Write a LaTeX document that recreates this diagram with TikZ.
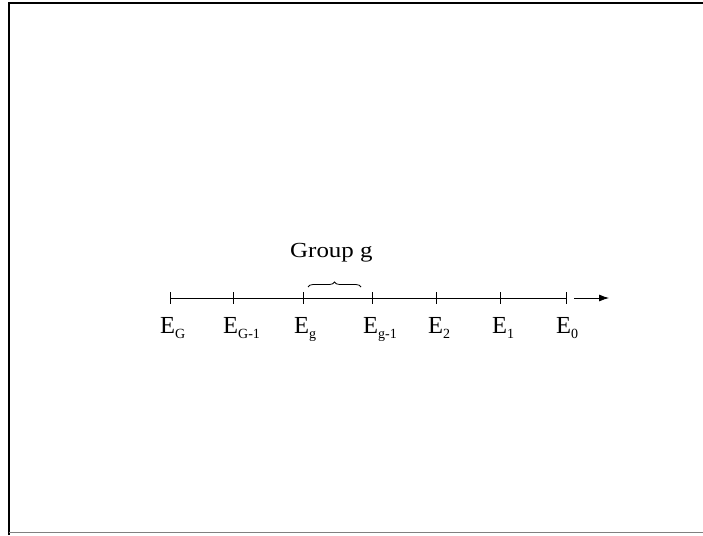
\documentclass[tikz,border=0pt]{standalone}
\usepackage{fontspec}
\usepackage{graphicx}
\setmainfont{Liberation Serif}
\usetikzlibrary{decorations.pathreplacing,arrows.meta}
\newcommand\subtxt[1]{\raisebox{-5pt}{\fontsize{14}{14}\selectfont #1}}
\begin{document}
\begin{tikzpicture}[x=1pt,y=-1pt,
  lbl/.style={anchor=base west, inner sep=0pt, font=\fontsize{24.5}{24.5}\selectfont},
  tick/.style={line width=0.8pt},
  axis/.style={line width=0.8pt}]
\useasboundingbox (0,0) rectangle (703,535);
% frame
\coordinate (fbl) at (9,535);
\coordinate (ftl) at (9,3);
\coordinate (ftr) at (703,3);
\coordinate (fb1) at (9,532);
\coordinate (fb2) at (703,532);
\draw[line width=2pt] (fbl) -- (ftl) -- (ftr);
\draw[gray, line width=1pt] (fb1) -- (fb2);
% axis
\foreach \n/\x in {1/170,2/233,3/303,4/372,5/436,6/500,7/566}{
  \coordinate (t\n) at (\x,298);
}
\draw[axis] (t1) -- (t7);
\foreach \n in {1,...,7}{
  \draw[tick] (t\n) ++(0,-6) -- ++(0,12);
}
\coordinate (a1) at (574,298);
\coordinate (a2) at (609,298);
\draw[axis,-{Latex[length=10pt,width=7pt]}] (a1) -- (a2);
% labels
\node[lbl] (eG)  at (160,333) {E\subtxt{G}};
\node[lbl] (eG1) at (223,333) {E\subtxt{G-1}};
\node[lbl] (eg)  at (294,333) {E\subtxt{g}};
\node[lbl] (eg1) at (363,333) {E\subtxt{g-1}};
\node[lbl] (e2)  at (428,333) {E\subtxt{2}};
\node[lbl] (e1)  at (492,333) {E\subtxt{1}};
\node[lbl] (e0)  at (556,333) {E\subtxt{0}};
% brace and group label
\coordinate (b1) at (308,287);
\coordinate (b2) at (361,287);
\draw[line width=0.8pt, decorate, decoration={brace, amplitude=5pt}] (b1) -- (b2);
\node[anchor=base west, inner sep=0pt, font=\fontsize{21.5}{21.5}\selectfont] (grp) at (290,257) {\scalebox{1.16}[1]{Group g}};
\end{tikzpicture}
\end{document}
